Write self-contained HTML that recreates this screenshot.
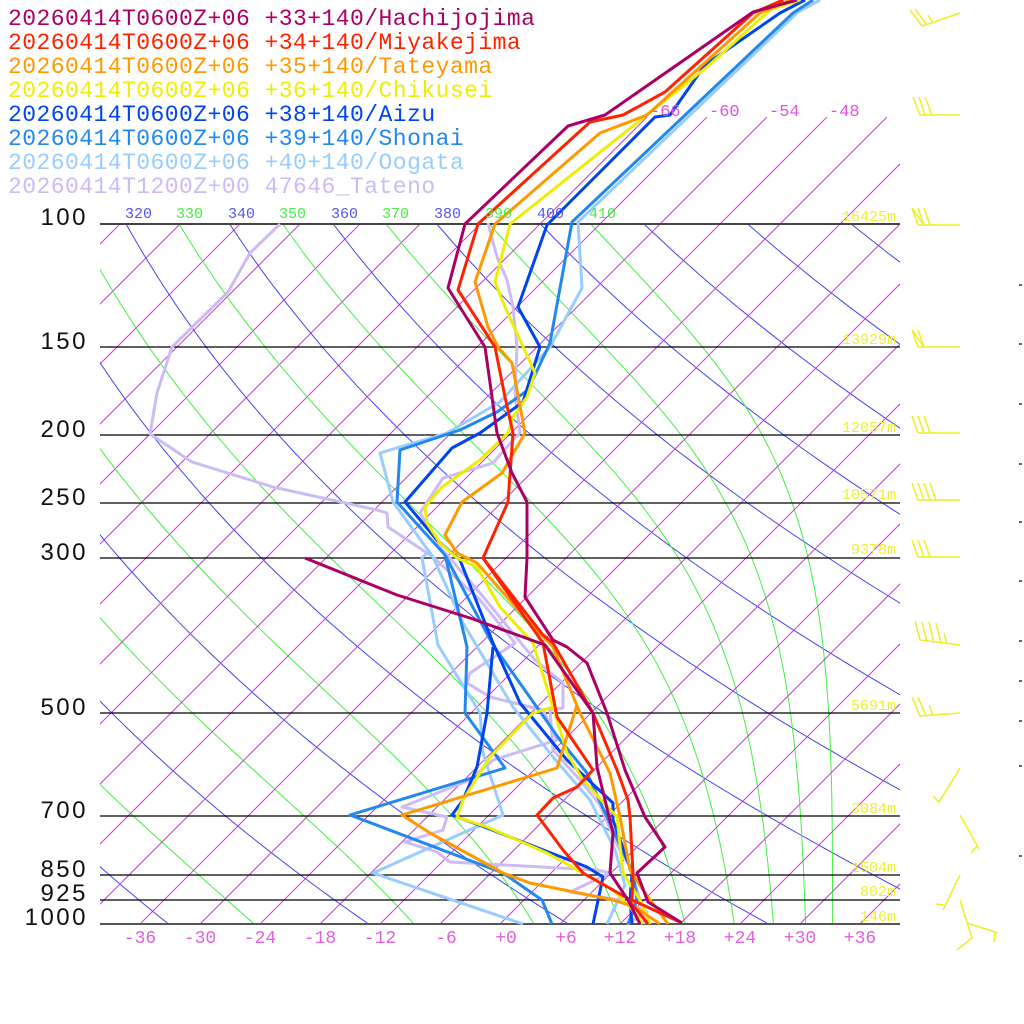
<!DOCTYPE html>
<html><head><meta charset="utf-8"><style>
html,body{margin:0;padding:0;background:#fff;}
svg{display:block;}
.m{font-family:"Liberation Mono",monospace;}
</style></head><body>
<svg id="s" width="1024" height="1024" viewBox="0 0 1024 1024" xmlns="http://www.w3.org/2000/svg">
<defs>
<clipPath id="c1"><rect x="100" y="224" width="800" height="700"/></clipPath>
<clipPath id="c2"><rect x="100" y="117" width="800" height="807"/></clipPath>
<clipPath id="c3"><rect x="100" y="195" width="800" height="30"/></clipPath>
</defs>
<g id="bg"></g>
<g id="iso" stroke="#000" stroke-width="1.3">
<line x1="100" y1="224" x2="900" y2="224" stroke="#444" stroke-width="2"/>
<line x1="100" y1="347" x2="900" y2="347"/>
<line x1="100" y1="435" x2="900" y2="435"/>
<line x1="100" y1="503" x2="900" y2="503"/>
<line x1="100" y1="558" x2="900" y2="558"/>
<line x1="100" y1="713" x2="900" y2="713"/>
<line x1="100" y1="816" x2="900" y2="816"/>
<line x1="100" y1="875" x2="900" y2="875"/>
<line x1="100" y1="900" x2="900" y2="900"/>
<line x1="100" y1="924" x2="900" y2="924" stroke="#555" stroke-width="2"/>
</g>
<g id="data" fill="none" stroke-width="3" stroke-linejoin="round"></g>
<g id="barbs" stroke="#eeee22" stroke-width="1.5" fill="none"></g>
<g class="m" font-size="23" letter-spacing="0.45">
<text x="8" y="25" fill="#aa0066">20260414T0600Z+06 +33+140/Hachijojima</text>
<text x="8" y="49" fill="#ff2200">20260414T0600Z+06 +34+140/Miyakejima</text>
<text x="8" y="73" fill="#ff9900">20260414T0600Z+06 +35+140/Tateyama</text>
<text x="8" y="97" fill="#eeee00">20260414T0600Z+06 +36+140/Chikusei</text>
<text x="8" y="121" fill="#0044ee">20260414T0600Z+06 +38+140/Aizu</text>
<text x="8" y="145" fill="#2288ee">20260414T0600Z+06 +39+140/Shonai</text>
<text x="8" y="169" fill="#99ccff">20260414T0600Z+06 +40+140/Oogata</text>
<text x="8" y="193" fill="#ccbbf5">20260414T1200Z+00 47646_Tateno</text>
</g>
<g font-family="Liberation Sans, sans-serif" font-size="24" letter-spacing="2.5" fill="#111" text-anchor="end">
<text x="88" y="225">100</text><text x="88" y="349">150</text><text x="88" y="437">200</text>
<text x="88" y="505">250</text><text x="88" y="560">300</text><text x="88" y="715">500</text>
<text x="88" y="818">700</text><text x="88" y="877">850</text><text x="88" y="901">925</text>
<text x="88" y="925">1000</text>
</g>
<g class="m" font-size="15" fill="#eeee33" text-anchor="end">
<text x="896" y="221">16425m</text><text x="896" y="344">13929m</text><text x="896" y="432">12057m</text>
<text x="896" y="499">10571m</text><text x="896" y="554">9378m</text><text x="896" y="710">5691m</text>
<text x="896" y="813">3084m</text><text x="896" y="872">1504m</text><text x="896" y="896">802m</text>
<text x="896" y="921">146m</text>
</g>
<g class="m" font-size="18" fill="#e060e0" text-anchor="middle">
<text x="140" y="943">-36</text><text x="200" y="943">-30</text><text x="260" y="943">-24</text>
<text x="320" y="943">-18</text><text x="380" y="943">-12</text><text x="446" y="943">-6</text>
<text x="506" y="943">+0</text><text x="566" y="943">+6</text><text x="620" y="943">+12</text>
<text x="680" y="943">+18</text><text x="740" y="943">+24</text><text x="800" y="943">+30</text>
<text x="860" y="943">+36</text>
</g>
<g class="m" font-size="17" fill="#e050e0">
<text x="650" y="116">-66</text><text x="709" y="116">-60</text><text x="769" y="116">-54</text><text x="829" y="116">-48</text>
</g>
<g class="m" font-size="15">
<g clip-path="url(#c3)"><text x="74" y="218" fill="#44ee44">310</text></g>
<text x="125" y="218" fill="#5555ee">320</text>
<text x="176" y="218" fill="#44ee44">330</text>
<text x="228" y="218" fill="#5555ee">340</text>
<text x="279" y="218" fill="#44ee44">350</text>
<text x="331" y="218" fill="#5555ee">360</text>
<text x="382" y="218" fill="#44ee44">370</text>
<text x="434" y="218" fill="#5555ee">380</text>
<text x="485" y="218" fill="#44ee44">390</text>
<text x="537" y="218" fill="#5555ee">400</text>
<text x="589" y="218" fill="#44ee44">410</text>
</g>
<g fill="#666">
<rect x="1019" y="284" width="3" height="2"/><rect x="1019" y="343" width="3" height="2"/>
<rect x="1019" y="403" width="3" height="2"/><rect x="1019" y="463" width="3" height="2"/>
<rect x="1019" y="521" width="3" height="2"/><rect x="1019" y="580" width="3" height="2"/>
<rect x="1019" y="640" width="3" height="2"/><rect x="1019" y="680" width="3" height="2"/>
<rect x="1019" y="720" width="3" height="2"/><rect x="1019" y="765" width="3" height="2"/>
<rect x="1019" y="855" width="3" height="2"/>
</g>
</svg>
<script>
(function(){
var NS="http://www.w3.org/2000/svg";
function Y(p){return 924-700*Math.log10(1000/p);}
function X(T,p){return 500+10*T+(924-Y(p));}
function el(tag,attrs,parent){var e=document.createElementNS(NS,tag);for(var k in attrs)e.setAttribute(k,attrs[k]);parent.appendChild(e);return e;}
var bg=document.getElementById("bg");
var g1=el("g",{"clip-path":"url(#c1)",fill:"none"},bg);
var g2=el("g",{"clip-path":"url(#c2)",fill:"none"},bg);
for(var T=-120;T<=36;T+=6){
  var x0=500+10*T, yt=(T>=-66)?117:224;
  el("line",{x1:x0,y1:924,x2:x0+(924-yt),y2:yt,stroke:"#dd33dd","stroke-width":1},(T>=-66)?g2:g1);
}
for(var th=200;th<=520;th+=20){
  var pts=[];
  for(var p=1000;p>=100;p-=10){var t=th*Math.pow(p/1000,0.2857)-273.15;pts.push(X(t,p).toFixed(1)+","+Y(p).toFixed(1));}
  el("polyline",{points:pts.join(" "),stroke:"#4444ee","stroke-width":1},g1);
}
function thetae(TK,p){
  var Tc=TK-273.15;var es=6.112*Math.exp(17.67*Tc/(Tc+243.5));
  var r=622*es/(p-es); if(r<0||p-es<=0) r=1e3;
  return TK*Math.pow(1000/p,0.2854*(1-0.00028*r))*Math.exp((3.376/TK-0.00254)*r*(1+0.00081*r));
}
for(var te=230;te<=410;te+=20){
  var pts=[];
  for(var p=1000;p>=100;p-=10){
    var lo=150,hi=330;
    for(var i=0;i<50;i++){var mid=(lo+hi)/2; if(thetae(mid,p)>te)hi=mid;else lo=mid;}
    var t=(lo+hi)/2-273.15;
    pts.push(X(t,p).toFixed(1)+","+Y(p).toFixed(1));
  }
  el("polyline",{points:pts.join(" "),stroke:"#44ee44","stroke-width":1},g1);
}
var D=document.getElementById("data");
var S=[
["#ccbbf5","280,224 250,253 228,292 172,347 157,393 150,434 192,462 273,487 377,510 387,513 388,527 433,557 480,600 515,643 470,673 467,683 490,697 543,710 557,740 493,760 470,780 402,807 447,817 443,830 405,842 437,852 450,862 597,870 610,873 570,892 620,900 647,912 627,924"],
["#ccbbf5","488,223 497,257 507,280 513,307 517,347 515,393 520,433 513,440 493,463 443,478 420,513 440,547 480,593 535,660 563,683 563,708 550,710 553,750 580,780 600,805 617,845 630,867 640,900 645,924"],
["#99ccff","430,550 422,558 438,645 480,713 483,753 503,815 373,873 523,924"],
["#99ccff","820,0 798,12 578,222 582,288 550,347 500,402 447,433 380,453 393,502 433,557 463,623 513,707 553,757 590,800 615,850 625,885 607,924"],
["#2288ee","445,555 467,647 465,713 505,768 350,815 503,873 542,900 552,924"],
["#2288ee","813,0 793,13 572,222 550,343 528,390 497,412 460,430 400,450 397,502 445,555 493,645 560,740 587,773 607,817 633,873 637,900 628,924"],
["#0044ee","493,647 487,713 477,767 463,800 452,815 487,828 587,867 603,877 593,924"],
["#0044ee","805,0 780,13 705,65 670,115 655,117 547,225 518,307 540,347 523,402 480,433 452,448 405,502 437,540 460,560 493,643 520,703 567,760 613,803 613,820 632,873 630,900 632,924"],
["#eeee00","553,707 533,713 490,757 463,800 457,817 487,827 547,853 613,890 630,907 643,924"],
["#eeee00","800,0 770,10 707,67 510,224 495,282 505,307 520,340 535,373 527,397 513,417 508,433 480,460 442,487 425,507 427,523 440,543 457,558 477,567 500,607 533,643 553,707 567,753 583,780 617,817 623,873 640,900 650,924"],
["#ff9900","577,705 557,768 402,815 430,833 503,873 530,883 613,900 635,907 660,924"],
["#ff9900","790,0 760,13 647,115 600,133 495,224 475,282 488,327 498,347 512,363 525,433 502,473 462,502 445,535 457,553 477,563 527,620 553,647 580,713 610,773 620,817 630,870 643,890 668,924"],
["#ff2200","483,558 543,643 557,717 593,770 577,787 553,798 537,815 563,850 583,873 627,898 648,924"],
["#ff2200","783,0 753,13 665,92 623,115 590,122 478,224 458,290 495,347 505,397 513,433 508,502 483,558 543,635 553,643 593,713 617,770 628,800 630,817 633,873 632,900 682,923"],
["#aa0066","305,558 397,595 470,618 523,637 545,645 593,713 597,767 613,833 610,873 628,900 640,924"],
["#aa0066","797,0 753,12 605,115 568,126 465,224 448,288 485,347 492,397 497,433 512,473 527,502 527,558 525,597 553,640 567,647 587,663 607,713 625,770 645,817 665,847 637,873 648,902 682,923"]
];
S.forEach(function(s){el("polyline",{points:s[1],stroke:s[0]},D);});
var B=document.getElementById("barbs");
function pl(p){el("polyline",{points:p},B);}
pl("960,13 922,26 910,10");pl("927,25 915,9");pl("933,23 928,15");
pl("960,115 920,115 913,97");pl("925,115 919,97");pl("932,115 925,97");
function std(Y,n,flag){pl("960,"+Y+" 918,"+Y);for(var i=0;i<n;i++){pl((918+6*i)+","+Y+" "+(912+6*i)+","+(Y-17));}if(flag)pl("912,"+(Y-17)+" 924,"+Y);}
std(225,3,true);std(347,2,true);std(433,3,false);std(500,4,false);std(557,3,false);
pl("960,645 920,640 915,621");pl("927,642 922,622");pl("934,643 929,622");pl("941,643 936,623");pl("947,644 944,633");
pl("960,713 920,716 912,697");pl("926,716 918,697");pl("933,715 929,705");
pl("960,768 939,802 933,796");
pl("960,815 979,849");pl("977,846 971,853");
pl("960,875 943,910");pl("943,905 936,904");
pl("960,900 972,938 957,950");pl("967,923 998,933");pl("995,933 994,942");
})();
</script>
</body></html>
